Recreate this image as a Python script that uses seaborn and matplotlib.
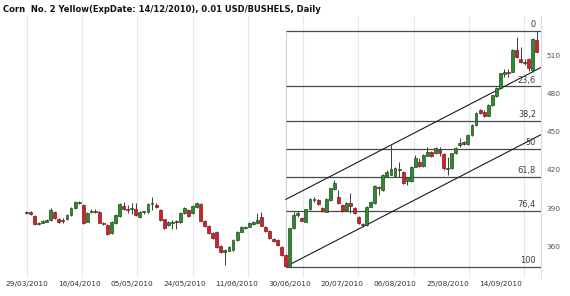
import matplotlib
matplotlib.use("Agg")
import matplotlib.pyplot as plt
import seaborn as sns
import numpy as np
import pandas as pd

title = "Corn  No. 2 Yellow(ExpDate: 14/12/2010), 0.01 USD/BUSHELS, Daily"

opens = [385.8, 386.5, 383.8, 377.5, 378.5, 379.3, 380.6, 387.0, 381.4, 380.5,
         381.1, 384.6, 389.8, 394.0, 392.4, 379.3, 386.6, 387.9, 386.6, 378.5,
         376.7, 370.2, 378.0, 383.8, 391.6, 389.0, 389.0, 389.3, 383.2, 386.5,
         386.6, 393.2, 392.4, 388.5, 381.1, 376.7, 378.5, 379.6, 379.3, 385.8,
         388.5, 386.4, 390.6, 393.2, 379.8, 375.9, 370.2, 371.5, 360.5, 355.8,
         356.6, 357.1, 364.9, 371.5, 374.1, 375.4, 377.2, 378.0, 382.7, 375.4,
         372.2, 365.5, 364.9, 359.7, 353.2, 344.6, 374.1, 384.5, 382.4, 379.3,
         389.0, 396.5, 396.3, 389.8, 387.2, 396.3, 404.7, 398.9, 392.4, 388.5,
         394.2, 389.8, 382.7, 377.5, 376.7, 391.1, 394.2, 406.0, 404.2, 414.6,
         416.0, 414.5, 419.5, 418.5, 411.5, 411.0, 422.4, 426.4, 423.0, 431.0,
         434.2, 432.9, 435.5, 432.4, 420.6, 421.1, 432.9, 439.5, 441.5, 440.0,
         447.0, 455.0, 466.9, 465.5, 462.5, 470.5, 477.5, 484.0, 495.0, 496.5,
         497.0, 514.0, 506.5, 503.5, 506.6, 498.5, 521.8]
highs = [388.0, 387.5, 384.2, 378.8, 380.8, 381.5, 390.0, 388.0, 382.0, 382.0,
         385.5, 390.5, 395.5, 395.5, 393.0, 386.5, 389.5, 389.0, 387.5, 379.0,
         377.2, 380.0, 385.5, 394.0, 395.0, 392.0, 394.0, 393.7, 387.5, 388.0,
         394.0, 398.9, 394.0, 389.5, 381.5, 380.0, 380.6, 380.6, 386.5, 391.0,
         389.0, 392.4, 394.5, 394.0, 380.5, 376.5, 371.0, 372.0, 361.0, 358.0,
         360.5, 365.5, 372.0, 376.0, 376.0, 378.8, 380.0, 386.0, 387.0, 376.0,
         373.0, 366.5, 365.5, 360.5, 353.8, 374.5, 387.0, 387.5, 383.0, 389.5,
         397.5, 399.0, 397.0, 391.0, 397.5, 406.0, 412.0, 404.5, 393.0, 394.5,
         401.5, 390.5, 383.5, 378.5, 391.5, 395.5, 408.0, 407.5, 416.5, 419.5,
         439.4, 422.0, 426.4, 419.0, 414.5, 423.0, 431.5, 429.0, 432.0, 438.0,
         435.0, 437.5, 438.0, 433.0, 430.3, 433.5, 437.5, 444.7, 442.5, 448.0,
         455.5, 465.0, 467.5, 466.5, 471.5, 479.0, 485.0, 496.0, 499.0, 499.0,
         515.0, 524.4, 516.5, 507.0, 507.5, 523.0, 529.0]
lows = [385.0, 384.8, 377.0, 377.0, 378.0, 378.8, 380.0, 381.5, 378.0, 378.5,
        380.5, 384.0, 389.0, 393.5, 377.5, 379.0, 386.0, 386.0, 378.0, 376.5,
        368.8, 369.5, 377.5, 383.0, 388.5, 386.0, 385.0, 384.0, 382.5, 385.5,
        386.0, 388.5, 390.0, 380.0, 373.5, 376.0, 373.3, 373.3, 378.5, 385.0,
        383.0, 385.5, 390.0, 379.5, 375.0, 369.5, 365.5, 359.0, 355.0, 345.3,
        356.0, 356.5, 364.0, 371.0, 373.5, 375.0, 376.5, 377.5, 375.5, 371.5,
        365.5, 363.5, 360.5, 352.5, 344.0, 344.3, 373.5, 383.0, 379.5, 379.0,
        388.5, 395.0, 392.5, 387.0, 386.5, 395.5, 404.0, 393.5, 387.0, 388.0,
        385.9, 385.0, 377.5, 375.2, 376.0, 390.5, 393.5, 400.2, 403.5, 414.0,
        415.5, 414.0, 414.6, 409.0, 408.0, 410.5, 422.0, 422.5, 422.5, 430.5,
        430.0, 432.5, 430.5, 419.8, 415.9, 420.5, 432.5, 437.5, 439.5, 439.5,
        446.5, 454.5, 463.5, 461.5, 462.0, 470.0, 477.0, 483.5, 492.5, 493.0,
        496.5, 508.0, 504.0, 502.0, 497.5, 497.0, 512.0]
closes = [387.0, 385.3, 377.2, 378.3, 380.1, 380.6, 388.5, 382.0, 378.8, 379.5,
          384.6, 389.8, 395.0, 394.8, 378.0, 385.8, 388.0, 387.2, 378.5, 377.2,
          369.6, 379.3, 384.6, 393.2, 389.0, 388.5, 389.3, 384.6, 386.9, 387.2,
          393.2, 393.7, 391.1, 380.6, 374.1, 379.3, 379.3, 379.0, 385.8, 389.8,
          383.8, 391.6, 393.7, 380.1, 375.9, 370.2, 366.2, 359.7, 355.8, 357.1,
          359.7, 364.9, 371.5, 375.4, 375.4, 378.0, 379.3, 380.6, 375.9, 372.2,
          366.2, 364.5, 361.0, 353.2, 344.6, 374.1, 384.5, 385.8, 380.1, 389.0,
          396.8, 397.0, 393.2, 387.5, 396.8, 405.4, 409.4, 394.2, 387.9, 393.7,
          391.6, 385.9, 378.0, 377.0, 391.1, 395.0, 407.3, 405.5, 415.9, 418.5,
          420.5, 421.0, 420.0, 409.5, 414.0, 422.4, 429.0, 423.0, 431.6, 434.2,
          430.8, 436.8, 433.5, 421.1, 421.5, 432.9, 436.8, 441.3, 440.5, 447.5,
          455.0, 464.3, 464.5, 462.5, 470.8, 478.6, 484.0, 495.6, 496.5, 495.5,
          514.0, 508.7, 504.8, 504.5, 499.5, 522.3, 512.6]

date_labels = ["29/03/2010", "16/04/2010", "05/05/2010", "24/05/2010", "11/06/2010",
               "30/06/2010", "20/07/2010", "06/08/2010", "25/08/2010", "14/09/2010"]
fib_ratios = [0, 23.6, 38.2, 50, 61.8, 76.4, 100]
fib_labels = ["0", "23,6", "38,2", "50", "61,8", "76,4", "100"]
price_ticks = [360, 390, 420, 450, 480, 510]

df = pd.DataFrame({"open": opens, "high": highs, "low": lows, "close": closes})
df["idx"] = np.arange(len(df))
df["up"] = df["close"] >= df["open"]

sns.set_theme(style="white")
plt.rcParams["font.family"] = ["DejaVu Sans"]

fig = plt.figure(figsize=(5.7, 2.96), dpi=100)
ax = fig.add_axes([0, 18 / 296, 541 / 570, 262 / 296])

n = len(df)
xmin, xmax = -6.54, n + 0.04
ax.set_xlim(xmin, xmax)
ax.set_ylim(335.1, 540.6)

# vertical grid lines (spacing of the original software)
grid_step = 13.65
for k in range(10):
    ax.axvline(k * grid_step + 0.05, color="#e3e9ee", lw=0.8, zorder=0)

# fibonacci retracement
lo_i = int(df["low"].idxmin())
lo = df["low"].min()
hi = df["high"].max()
ax.vlines(lo_i, lo, hi, color="#d2d2d2", lw=0.8, zorder=1)
for r, lab in zip(fib_ratios, fib_labels):
    p = hi - (hi - lo) * r / 100.0
    ax.hlines(p, lo_i, xmax, color="#4a4a4a", lw=0.9, zorder=1)
    ax.annotate(lab, xy=(n - 1.2, p), xytext=(0, 1.2), textcoords="offset points",
                ha="right", va="bottom", fontsize=5.9, color="#3a3a3a")

# trend channel through two lows and a high
a_i, b_i, h_i = 64, 83, 90
slope = (lows[b_i] - lows[a_i]) / (b_i - a_i)
xs = np.array([a_i, xmax])
lower = lows[a_i] + slope * (xs - a_i)
offset = highs[h_i] - (lows[a_i] + slope * (h_i - a_i))
ch = pd.DataFrame({"x": np.concatenate([xs, xs]),
                   "y": np.concatenate([lower, lower + offset]),
                   "line": ["low", "low", "high", "high"]})
sns.lineplot(data=ch, x="x", y="y", units="line", estimator=None,
             color="#1a1a1a", lw=0.8, ax=ax, zorder=2)

# candles
ax.vlines(df["idx"], df["low"], df["high"], color="#3c3c3c", lw=0.7, zorder=3)
body_bottom = np.minimum(df["open"], df["close"])
body_h = np.maximum(np.abs(df["close"] - df["open"]), 0.8)
colors = np.where(df["up"], "#2f8a2f", "#d4202c")
edges = np.where(df["up"], "#1d4d1d", "#7a1a1a")
ax.bar(df["idx"], body_h, bottom=body_bottom, width=0.72, color=colors,
       edgecolor=edges, linewidth=0.5, zorder=4)

# axes styling
ax.yaxis.tick_right()
ax.set_yticks(price_ticks)
ax.set_yticklabels([str(v) for v in price_ticks])
ax.tick_params(axis="y", length=0, pad=4, labelsize=5.3, labelcolor="#555555")
ax.set_xticks(np.arange(len(date_labels)) * 13)
ax.set_xticklabels(date_labels)
ax.tick_params(axis="x", length=0, pad=2.5, labelsize=5.3, labelcolor="#333333")
ax.set_xlabel("")
ax.set_ylabel("")
for s in ["top", "left", "bottom"]:
    ax.spines[s].set_visible(False)
ax.spines["right"].set_color("#dcdcdc")
ax.spines["right"].set_linewidth(0.8)
ax.grid(False)

fig.text(3 / 570, 1 - 10 / 296, title, fontsize=6.0, fontweight="bold",
         ha="left", va="center", color="#111111")

fig.savefig("out.png", dpi=100, facecolor="white")
